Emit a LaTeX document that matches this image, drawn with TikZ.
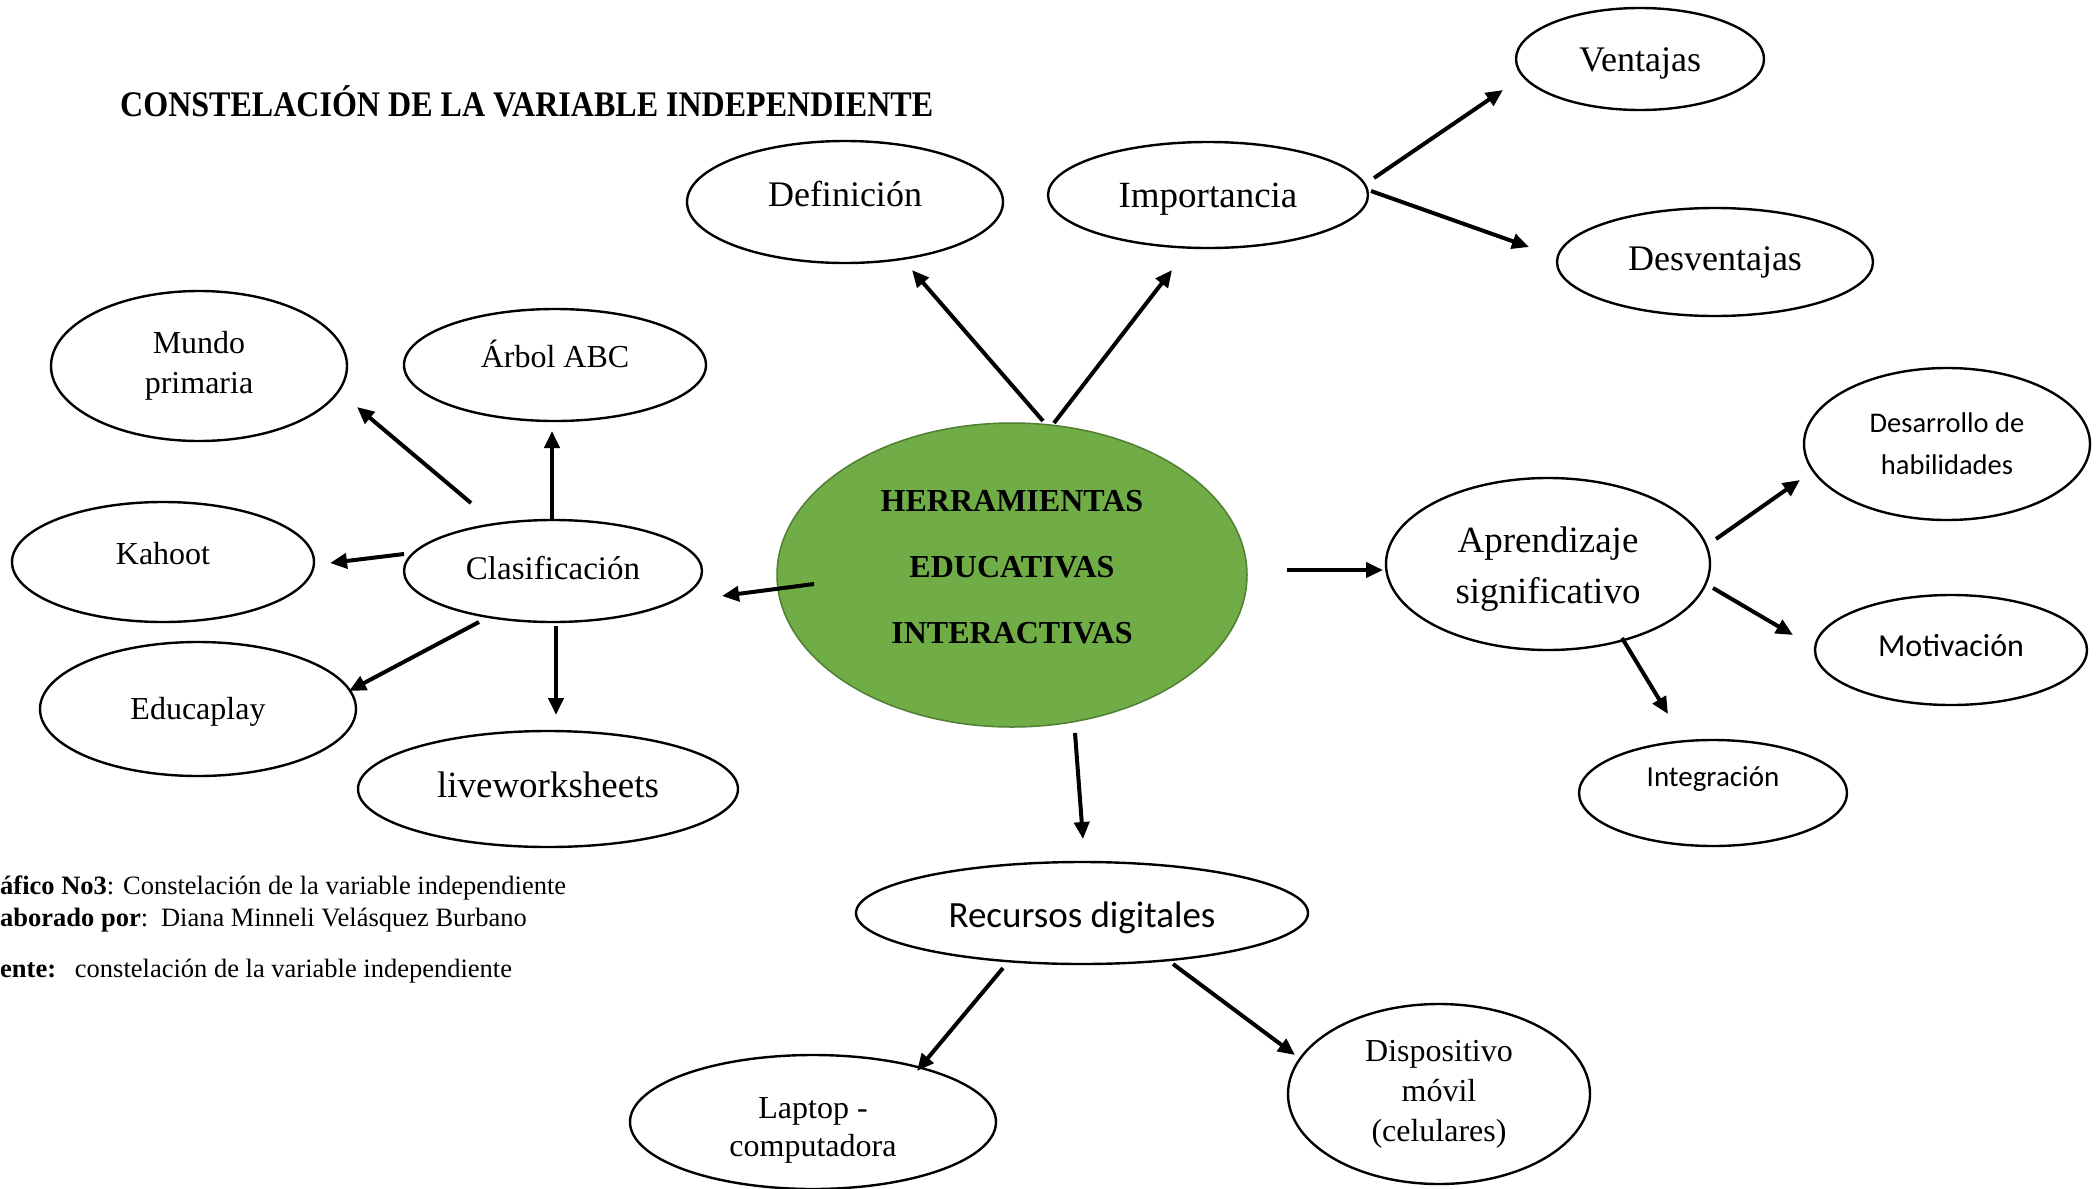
\documentclass[tikz,border=0pt]{standalone}
\usepackage{fontspec}
\setmainfont{Liberation Serif}
\newfontfamily\calibri{Carlito}
\newfontfamily\titlefont{Liberation Serif}[FakeStretch=0.89]
\usetikzlibrary{shapes.geometric,arrows.meta}
\definecolor{hubgreen}{HTML}{70AD47}
\definecolor{hubedge}{HTML}{507E32}
\tikzset{
  bub/.style={ellipse, draw=black, line width=2.4pt, inner sep=0pt, fill=white},
  fs/.style={font=\fontsize{#1}{#1}\selectfont},
  cal/.style={font=\calibri\fontsize{#1}{#1}\selectfont},
  arr/.style={line width=4pt, -{Triangle[length=17pt,width=15pt]}},
  capt/.style={anchor=west, inner sep=0pt, font=\fontsize{26.5}{30}\selectfont},
}
\begin{document}
\begin{tikzpicture}[x=1pt,y=-1pt]
\useasboundingbox (0,0) rectangle (2097,1189);
\fill[white] (0,0) rectangle (2097,1189);

% title
\node[anchor=west, inner sep=0pt, font=\titlefont\bfseries\fontsize{36}{40}\selectfont] (title) at (120,101) {CONSTELACIÓN DE LA VARIABLE INDEPENDIENTE};

% central node
\node[ellipse, draw=hubedge, line width=1.5pt, fill=hubgreen, minimum width=470, minimum height=304, inner sep=0pt,
      text height=100pt, text depth=96pt,
      font=\bfseries\fontsize{32}{36}\selectfont] (hub) at (1012,575) {\begin{tabular}{@{}c@{}}HERRAMIENTAS\\[30pt]EDUCATIVAS\\[30pt]INTERACTIVAS\end{tabular}};

% top
\node[bub, minimum width=316, minimum height=122, fs=36, text height=34pt, text depth=26pt] (def) at (845,202) {Definición};
\node[bub, minimum width=320, minimum height=106, fs=37, text height=42pt, text depth=18pt] (imp) at (1208,195) {Importancia};
\node[bub, minimum width=248, minimum height=102, fs=36, text height=42pt, text depth=18pt] (ven) at (1640,59) {Ventajas};
\node[bub, minimum width=316, minimum height=108, fs=36, text height=38pt, text depth=22pt] (des) at (1715,262) {Desventajas};

% left cluster
\node[bub, align=center, minimum width=296, minimum height=150, font=\fontsize{32}{40}\selectfont] (mun) at (199,366) {Mundo\\primaria};
\node[bub, minimum width=302, minimum height=112, fs=32, text height=32pt, text depth=28pt] (arb) at (555,365) {Árbol ABC};
\node[bub, minimum width=302, minimum height=120, fs=32, text height=32pt, text depth=28pt] (kah) at (163,562) {Kahoot};
\node[bub, minimum width=298, minimum height=102, fs=33, text height=38pt, text depth=22pt] (cla) at (553,571) {Clasificación};
\node[bub, minimum width=316, minimum height=134, fs=32, text height=40pt, text depth=20pt] (edu) at (198,709) {Educaplay};
\node[bub, minimum width=380, minimum height=116, fs=37, text height=38pt, text depth=22pt] (liv) at (548,789) {liveworksheets};

% right cluster
\node[bub, minimum width=324, minimum height=172, font=\fontsize{37}{51}\selectfont, text height=65pt, text depth=45pt] (apr) at (1548,564) {\begin{tabular}{@{}c@{}}Aprendizaje\\significativo\end{tabular}};
\node[bub, align=center, minimum width=286, minimum height=152, font=\calibri\fontsize{28.5}{42}\selectfont] (desa) at (1947,444) {Desarrollo de\\habilidades};
\node[bub, minimum width=272, minimum height=110, cal=32, text height=36pt, text depth=24pt] (mot) at (1951,650) {Motivación};
\node[bub, minimum width=268, minimum height=106, cal=29, text height=23pt, text depth=37pt] (int) at (1713,793) {Integración};

% bottom cluster
\node[bub, minimum width=452, minimum height=102, cal=37, text height=44.5pt, text depth=15.5pt] (rec) at (1082,913) {Recursos digitales};
\node[bub, minimum width=366, minimum height=134, font=\fontsize{32}{38}\selectfont, text height=59pt, text depth=31pt] (lap) at (813,1122) {\begin{tabular}{@{}c@{}}Laptop -\\computadora\end{tabular}};
\node[bub, align=center, minimum width=302, minimum height=180, font=\fontsize{32}{40}\selectfont] (dis) at (1439,1094) {Dispositivo\\móvil\\(celulares)};

% caption
\node[capt] (cap1) at (0,888) {\textbf{áfico No3}: Constelación de la variable independiente};
\node[capt] (cap2) at (0,920) {\textbf{aborado por}:\hspace{4pt} Diana Minneli Velásquez Burbano};
\node[capt] (cap3) at (0,971) {\textbf{ente:}\hspace{10pt} constelación de la variable independiente};

% connector end points
\coordinate (hubDefS) at (1043,421);  \coordinate (defE) at (912,270);
\coordinate (hubImpS) at (1054,423);  \coordinate (impE) at (1172,270);
\coordinate (impVenS) at (1374,178);  \coordinate (venE) at (1503,90);
\coordinate (impDesS) at (1371,191);  \coordinate (desE) at (1529,247);
\coordinate (hubClaS) at (814,584);   \coordinate (claE) at (722,596);
\coordinate (claMunS) at (471,503);   \coordinate (munE) at (357,407);
\coordinate (claArbS) at (552,520);   \coordinate (arbE) at (552,431);
\coordinate (claKahS) at (404,554);   \coordinate (kahE) at (330,563);
\coordinate (claEduS) at (479,622);   \coordinate (eduE) at (349,691);
\coordinate (claLivS) at (556,626);   \coordinate (livE) at (556,715);
\coordinate (hubAprS) at (1287,570);  \coordinate (aprE) at (1383,570);
\coordinate (aprDesaS) at (1716,539); \coordinate (desaE) at (1800,480);
\coordinate (aprMotS) at (1713,588);  \coordinate (motE) at (1793,635);
\coordinate (aprIntS) at (1622,638);  \coordinate (intE) at (1668,714);
\coordinate (hubRecS) at (1075,733);  \coordinate (recE) at (1083,839);
\coordinate (recLapS) at (1003,968);  \coordinate (lapE) at (917,1071);
\coordinate (recDisS) at (1173,964);  \coordinate (disE) at (1295,1055);

\draw[arr] (hubDefS) -- (defE);
\draw[arr] (hubImpS) -- (impE);
\draw[arr] (impVenS) -- (venE);
\draw[arr] (impDesS) -- (desE);
\draw[arr] (hubClaS) -- (claE);
\draw[arr] (claMunS) -- (munE);
\draw[arr] (claArbS) -- (arbE);
\draw[arr] (claKahS) -- (kahE);
\draw[arr] (claEduS) -- (eduE);
\draw[arr] (claLivS) -- (livE);
\draw[arr] (hubAprS) -- (aprE);
\draw[arr] (aprDesaS) -- (desaE);
\draw[arr] (aprMotS) -- (motE);
\draw[arr] (aprIntS) -- (intE);
\draw[arr] (hubRecS) -- (recE);
\draw[arr] (recLapS) -- (lapE);
\draw[arr] (recDisS) -- (disE);
\end{tikzpicture}
\end{document}
